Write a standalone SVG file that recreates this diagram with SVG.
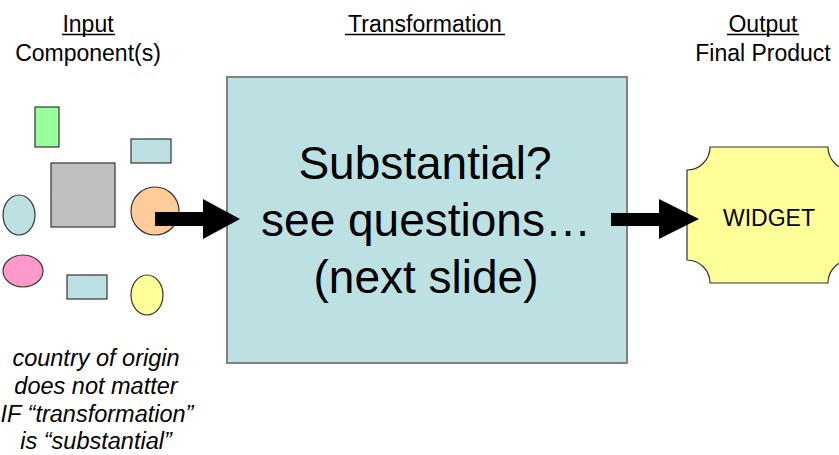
<svg xmlns="http://www.w3.org/2000/svg" width="839" height="455" viewBox="0 0 839 455">
<style>
.hd{font-family:"Liberation Sans",Arial,sans-serif;font-size:23px;fill:#000;text-anchor:middle}
.big{font-family:"Liberation Sans",Arial,sans-serif;font-size:46px;fill:#000;text-anchor:middle}
.it{font-family:"Liberation Sans",Arial,sans-serif;font-size:23.5px;font-style:italic;fill:#000;text-anchor:middle}
.sh{stroke:#333;stroke-width:1.2}
.ul{stroke:#000;stroke-width:1.3}
</style>
<rect width="839" height="455" fill="#fff"/>
<g id="headers">
<text class="hd" x="88" y="32">Input</text>
<line class="ul" x1="62" y1="34.5" x2="115" y2="34.5"/>
<text class="hd" x="88" y="61">Component(s)</text>
<text class="hd" x="425" y="32">Transformation</text>
<line class="ul" x1="345" y1="34.5" x2="505" y2="34.5"/>
<text class="hd" x="763" y="32">Output</text>
<line class="ul" x1="727" y1="34.5" x2="799" y2="34.5"/>
<text class="hd" x="763" y="61">Final Product</text>
</g>
<g id="components">
<rect class="sh" x="35" y="107" width="24" height="40" fill="#99ff99"/>
<rect class="sh" x="131" y="139" width="40" height="24" fill="#bde0e3"/>
<rect class="sh" x="51" y="163" width="64" height="64" fill="#c0c0c0"/>
<ellipse class="sh" cx="19" cy="215" rx="16" ry="20" fill="#bde0e3"/>
<circle class="sh" cx="155" cy="211" r="24" fill="#ffcc99"/>
<ellipse class="sh" cx="23" cy="271" rx="20" ry="16" fill="#ff99cc"/>
<rect class="sh" x="67" y="275" width="40" height="24" fill="#bde0e3"/>
<ellipse class="sh" cx="147" cy="295" rx="16" ry="20" fill="#ffff99"/>
</g>
<g id="transformation">
<rect x="227" y="77" width="400" height="286" fill="#bde0e3" stroke="#808080" stroke-width="2"/>
<text class="big" x="425" y="179">Substantial?</text>
<text class="big" x="426" y="236">see questions…</text>
<text class="big" x="426" y="293">(next slide)</text>
</g>
<g id="widget">
<path d="M710,147 L828,147 A23,23 0 0 0 851,170 L851,260 A23,23 0 0 0 828,283 L710,283 A23,23 0 0 0 687,260 L687,170 A23,23 0 0 0 710,147 Z" fill="#ffff99" stroke="#333" stroke-width="1.2"/>
<text x="769" y="226" font-family="Liberation Sans,Arial,sans-serif" font-size="23" text-anchor="middle">WIDGET</text>
</g>
<g id="connectors">
<polygon points="155,212 203,212 203,199 240,219 203,239 203,226 155,226" fill="#000"/>
<polygon points="611,213 659,213 659,199 699,219 659,239 659,226 611,226" fill="#000"/>
</g>
<g id="note">
<text class="it" x="96" y="366">country of origin</text>
<text class="it" x="96" y="394">does not matter</text>
<text class="it" x="97" y="422">IF “transformation”</text>
<text class="it" x="96" y="449">is “substantial”</text>
</g>
</svg>
